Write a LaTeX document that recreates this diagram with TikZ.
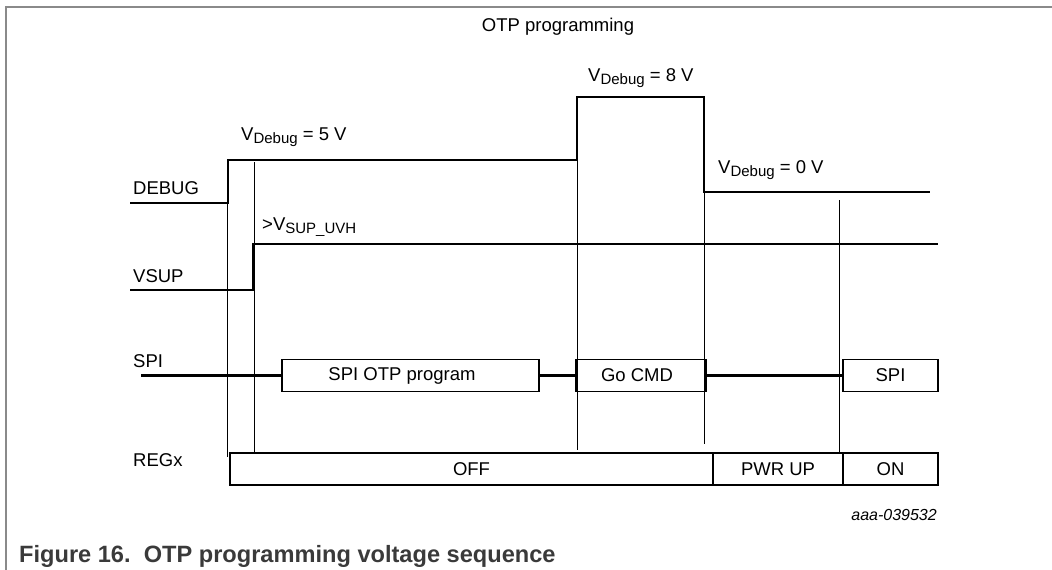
\documentclass[tikz,border=0pt]{standalone}
\usepackage{fontspec}
\setmainfont{Liberation Sans}
\definecolor{framec}{HTML}{8A8A8A}
\definecolor{capc}{HTML}{3A3A3A}
\newcommand\lab{\fontsize{18.5}{18.5}\selectfont}
\newcommand\subtx[1]{\raisebox{-3.5pt}{\fontsize{15}{15}\selectfont #1}}
\begin{document}
\begin{tikzpicture}[x=1pt,y=-1pt,
  sig/.style={line width=2.6pt, line join=miter},
  thinline/.style={line width=1pt},
  box/.style={draw, line width=1.6pt, minimum height=32pt, inner sep=0pt, font=\lab},
  lbl/.style={anchor=base west, inner sep=0pt, font=\lab}]
\useasboundingbox (0,0) rectangle (1052,570);
% frame
\draw[framec, line width=1.3pt] (6,570) -- (6,7) -- (1052,7);
% title
\node[anchor=base, inner sep=0pt, font=\lab] (title) at (558,31) {OTP programming};
% signal labels
\node[lbl] (ldebug) at (133,194) {DEBUG};
\node[lbl] (lvsup) at (133,282) {VSUP};
\node[lbl] (lspi) at (133,367) {SPI};
\node[lbl] (lreg) at (133,466) {REGx};
% value labels
\node[lbl] (t5) at (241,140) {V\subtx{Debug} = 5 V};
\node[lbl] (t8) at (588,81) {V\subtx{Debug} = 8 V};
\node[lbl] (t0) at (718,173) {V\subtx{Debug} = 0 V};
\node[lbl] (tuvh) at (262,230) {>V\subtx{SUP\_UVH}};
% thin timing lines
\draw[thinline] (227.5,160) -- (227.5,457);
\draw[thinline] (254.5,162) -- (254.5,453);
\draw[thinline] (577,160) -- (577,450);
\draw[thinline] (704,192) -- (704,444);
\draw[thinline] (839.5,200) -- (839.5,453);
% DEBUG waveform
\draw[sig] (130,203) -- (228,203) -- (228,160) -- (577,160) -- (577,97)
  -- (704,97) -- (704,192) -- (930,192);
% VSUP waveform
\draw[sig] (130,290) -- (253,290) -- (253,244) -- (938,244);
% SPI boxes
\node[box, minimum width=257pt] (otp) at (410.5,375.5) {SPI OTP program\hspace*{17pt}};
\node[box, minimum width=130pt] (go) at (641,375.5) {Go CMD\hspace*{8pt}};
\node[box, minimum width=95pt] (spib) at (890.5,375.5) {SPI};
\coordinate (spi0) at (141,375.5);
\draw[sig] (spi0) -- (otp.west);
\draw[sig] (otp.east) -- (go.west);
\draw[sig] (go.east) -- (spib.west);
% REGx boxes
\node[box, minimum width=483pt] (off) at (471.5,469) {OFF};
\node[box, minimum width=130pt] (pwr) at (778,469) {PWR UP};
\node[box, minimum width=95pt] (on) at (890.5,469) {ON};
% code and caption
\node[anchor=base east, inner sep=0pt, font=\fontsize{16}{16}\selectfont\itshape] (code) at (937,520) {aaa-039532};
\node[anchor=base west, inner sep=0pt, text=capc, font=\fontsize{23.6}{23.6}\selectfont\bfseries] (cap) at (19,562) {Figure 16.\ \ OTP programming voltage sequence};
\end{tikzpicture}
\end{document}
